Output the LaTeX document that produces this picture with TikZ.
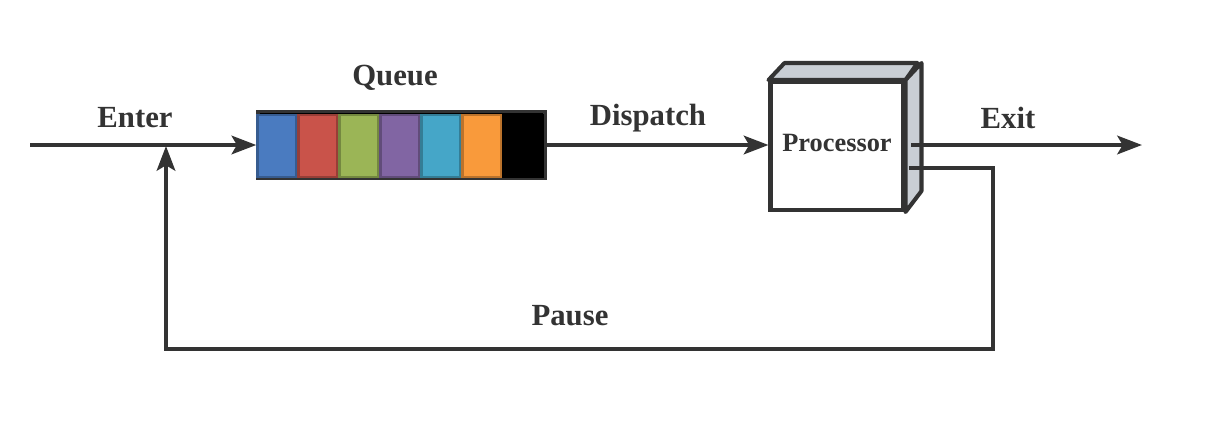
\documentclass[tikz,border=0pt]{standalone}
\usepackage{fontspec}
\setmainfont{Liberation Serif}
\usepackage{tikz}
\usetikzlibrary{arrows.meta}
\usetikzlibrary{positioning}
\definecolor{linegray}{HTML}{333333}
\definecolor{sidegray}{HTML}{C9CED4}
\definecolor{qblue}{HTML}{4A7BC0}
\definecolor{qred}{HTML}{C9534A}
\definecolor{qgreen}{HTML}{9BB556}
\definecolor{qpurple}{HTML}{8165A3}
\definecolor{qcyan}{HTML}{45A6C8}
\definecolor{qorange}{HTML}{F99A3B}
\tikzset{flow/.style = {draw=linegray, line width=2.3pt,
                        -{Stealth[length=14pt, width=10.5pt, inset=3pt]}},
         wire/.style = {draw=linegray, line width=2.3pt},
         lbl/.style  = {font=\bfseries\fontsize{17.5}{20}\selectfont, text=linegray},
         cell/.style = {minimum width=0.78cm, minimum height=1.24cm,
                        line width=1.2pt, inner sep=0pt}}

\begin{document}
\begin{tikzpicture}[x=0.02cm, y=-0.02cm]
  \useasboundingbox (0,0) rectangle (1211,423);

  % queue with its cells
  \node[draw=linegray, fill=black, line width=2pt, minimum width=5.74cm,
        minimum height=1.34cm, inner sep=0pt] (queue) at (401.5,145) {};
  \foreach \c [count=\i from 0] in {qblue,qred,qgreen,qpurple,qcyan,qorange,black}
    \node[cell, fill=\c, draw=\c!75!black] (cell\i) at (277+41*\i,146) {};

  % processor box
  \node[draw=linegray, line width=2.3pt, fill=white, minimum width=2.66cm,
        minimum height=2.56cm, inner sep=0pt,
        font=\bfseries\fontsize{15}{17}\selectfont, text=linegray] (proc) at (837,146) {\raisebox{3pt}{Processor}};
  \draw[wire, fill=sidegray, line join=round] (proc.north west) -- ++(16,-17) -- ++(133,0)
    -- (proc.north east) -- cycle;
  \draw[wire, fill=sidegray, line join=round] (proc.north east) -- ++(16,-17) -- ++(0,128)
    -- (proc.south east) -- cycle;

  \coordinate (in) at (30,145);
  \coordinate (outA) at (911,145);
  \coordinate (out) at (1142,145);
  \coordinate (pA) at (909,168);
  \coordinate (pC) at (993,349);
  \coordinate (pB) at (166,146);

  \draw[flow] (in) -- (queue.west);
  \draw[flow] (queue.east) -- (queue.east -| proc.west);
  \draw[flow] (outA) -- (out);
  \draw[flow] (pA) -| (pC) -| (pB);

  \node[lbl] (enter) at (135,118) {Enter};
  \node[lbl] (qname) at (395,78) {Queue};
  \node[lbl] (disp) at (648,118) {Dispatch};
  \node[lbl] (exit) at (1008,118) {Exit};
  \node[lbl] (pause) at (570,316) {Pause};
\end{tikzpicture}
\end{document}
